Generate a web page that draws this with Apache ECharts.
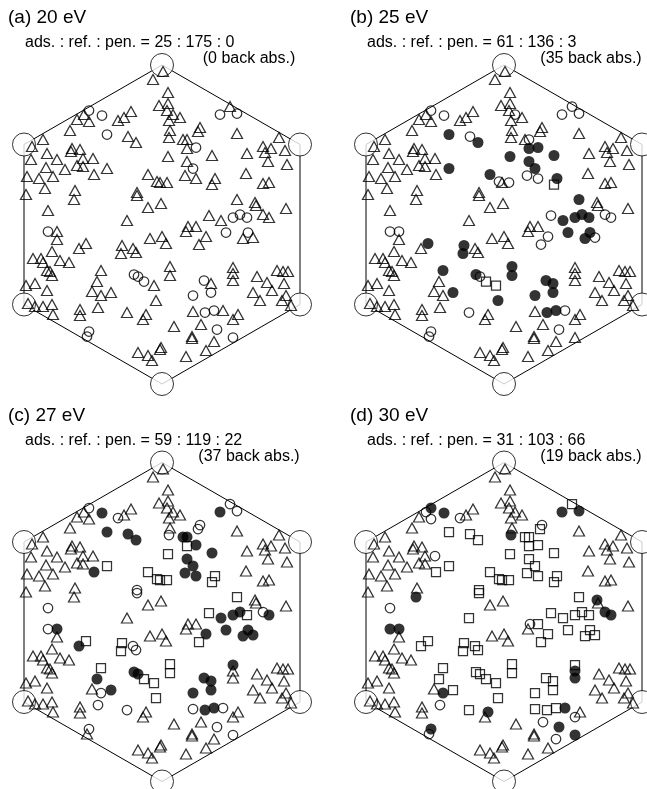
<!DOCTYPE html>
<html><head><meta charset="utf-8">
<script src="https://cdn.jsdelivr.net/npm/echarts@6/dist/echarts.min.js"></script>
<style>html,body{margin:0;padding:0;background:#fff}#c{width:647px;height:789px}</style>
</head><body><div id="c"></div>
<script>
// ---- text ----
const panelTitles = ['(a) 20 eV', '(b) 25 eV', '(c) 27 eV', '(d) 30 eV'];
const ratioTexts = ['ads. : ref. : pen. = 25 : 175 : 0', 'ads. : ref. : pen. = 61 : 136 : 3',
                    'ads. : ref. : pen. = 59 : 119 : 22', 'ads. : ref. : pen. = 31 : 103 : 66'];
const backAbs = ['(0 back abs.)', '(35 back abs.)', '(37 back abs.)', '(19 back abs.)'];

// ---- hexagon vertices (local units, y downward) ----
const hexVertices = [[0,-159.5],[-138,-80],[-138,80],[0,159.5],[138,80],[138,-80]];

// ---- (a) 20 eV ----
const aTri = [[1,-153],[-9,-145],[6,-132],[-3,-119],[6,-121],[5,-114],[11,-110],[18,-107],[7,-104],[68,-118],
[-31,-113],[-38,-107],[-44,-104],[-78,-110],[-85,-105],[-73,-103],[-92,-94],[-119,-85],[-130,-78],[-34,-88],
[-26,-82],[8,-94],[7,-87],[21,-85],[25,-85],[25,-76],[38,-97],[36,-93],[75,-91],[117,-87],
[101,-78],[109,-76],[103,-72],[123,-74],[-90,-76],[-82,-75],[-91,-73],[-115,-71],[-105,-65],[-131,-65],
[-79,-66],[-69,-66],[6,-68],[50,-69],[85,-71],[25,-63],[106,-63],[125,-60],
[-116,-57],[-97,-55],[-85,-59],[-79,-58],[-55,-56],[-135,-48],[-123,-46],[-109,-48],[-68,-50],[-14,-50],
[-5,-43],[-2,-42],[5,-42],[23,-49],[34,-46],[53,-46],[50,-40],[84,-51],[101,-41],[107,-42],
[-117,-36],[-136,-30],[-87,-34],[-88,-25],[-25,-32],[-25,-29],[75,-25],[93,-22],[94,-19],[124,-16],
[-114,-14],[-14,-17],[-1,-21],[47,-9],[59,-4],[101,-10],[107,-7],[-35,-4],[26,2],[24,7],
[34,2],[44,12],[37,20],[81,14],[91,13],[-105,7],[-105,15],[-76,19],[-83,24],[-12,14],
[0,12],[4,19],[-40,21],[-41,29],[-29,24],[-26,28],[-110,27],[-129,34],[-121,34],[-119,38],
[-102,36],[-93,38],[-115,46],[-112,47],[-110,51],[-61,46],[8,42],[8,51],[71,43],[71,49],
[71,56],[95,52],[115,46],[121,47],[126,47],[-136,61],[-127,59],[-115,66],[-65,57],[-70,67],
[-61,71],[-51,68],[-8,61],[-6,76],[49,59],[105,58],[122,59],[91,68],[110,66],[98,76],
[124,71],[120,76],[129,81],[-134,79],[-127,82],[-119,82],[-110,80],[-109,90],[-82,85],[-82,91],
[-64,83],[-35,88],[-16,90],[-19,95],[31,87],[61,86],[76,90],[71,95],[12,102],[39,100],
[30,114],[30,112],[52,117],[44,126],[24,132],[-24,128],[-14,131],[-10,136],[-2,125],[-1,123]];
const aOpen = [[-73,-114],[-60,-109],[58,-110],[75,-111],[-55,-90],[34,-77],[31,-56],[71,-7],[78,-10],[85,-7],
[64,8],[86,8],[-114,7],[-28,50],[-24,52],[-18,57],[42,56],[31,71],[49,68],[43,88],[52,86],[55,105],[71,113],
[-73,107],[-75,112]];
const aFill = [];
const aSq = [];

// ---- (b) 25 eV ----
const bTri = [[1,-153],[-9,-145],[6,-132],[-3,-119],[6,-121],[5,-114],[18,-107],[7,-104],
[-31,-113],[-38,-107],[-44,-104],[-78,-110],[-85,-105],[-73,-103],[-92,-94],[-119,-85],[-130,-78],
[8,-94],[7,-87],[21,-85],[38,-97],[36,-93],[75,-91],[117,-87],
[101,-78],[109,-76],[103,-72],[123,-74],[-90,-76],[-82,-75],[-91,-73],[-115,-71],[-105,-65],[-131,-65],
[-79,-66],[-69,-66],[85,-71],[106,-63],[125,-60],
[-116,-57],[-97,-55],[-85,-59],[-79,-58],[-135,-48],[-123,-46],[-109,-48],[-68,-50],
[-2,-42],[84,-51],[101,-41],[107,-42],
[-117,-36],[-136,-30],[-87,-34],[-88,-25],[-25,-32],[-25,-29],[93,-22],[94,-19],[124,-16],
[-114,-14],[-14,-17],[-1,-21],[-35,-4],[26,2],[24,7],
[34,2],[-105,15],[-83,24],[-12,14],
[0,12],[4,19],[-29,24],[-26,28],[-110,27],[-129,34],[-121,34],[-119,38],
[-102,36],[-93,38],[-115,46],[-112,47],[-110,51],[71,43],[71,49],
[71,56],[95,52],[115,46],[121,47],[126,47],[-136,61],[-127,59],[-115,66],[-65,57],[-70,67],
[-61,71],[105,58],[122,59],[91,68],[110,66],[98,76],
[124,71],[120,76],[129,81],[-134,79],[-127,82],[-119,82],[-110,80],[-109,90],[-82,85],[-82,91],
[-64,83],[-16,90],[-19,95],[31,87],[76,90],[71,95],[12,102],[39,100],
[30,114],[30,112],[52,117],[44,126],[24,132],[-24,128],[-14,131],[-10,136],[-2,125],[-1,123],[71,113]];
const bOpen = [[-73,-114],[-60,-109],[58,-110],[75,-111],[-114,7],[55,105],[-73,107],[-75,112],[11,-110],[68,-118],
[-34,-88],[25,-85],[-5,-43],[5,-42],[23,-49],[34,-46],[47,-9],[101,-10],[107,-7],[44,12],[37,20],[91,13],
[-105,7],[-35,88],[61,86],[-24,52]];
const bFill = [[-55,-90],[34,-77],[31,-56],[71,-7],[78,-10],[85,-7],[64,8],[86,8],[-28,50],[42,56],[31,71],[49,68],
[43,88],[52,86],[-26,-82],[25,-76],[6,-68],[50,-69],[25,-63],[-55,-56],[-14,-50],[53,-46],[75,-25],[59,-4],
[81,14],[-76,19],[-40,21],[-41,29],[-61,46],[8,42],[8,51],[-51,68],[-6,76],[49,59]];
const bSq = [[50,-40],[-18,57],[-8,61]];

// ---- (c) 27 eV ----
const cTri = [[1,-153],[-9,-145],[6,-132],[-3,-119],[6,-121],[5,-114],[11,-110],[18,-107],[7,-104],
[-31,-113],[-38,-107],[-78,-110],[-85,-105],[-73,-103],[-92,-94],[-119,-85],[-130,-78],
[8,-94],[75,-91],[117,-87],
[101,-78],[109,-76],[103,-72],[123,-74],[-90,-76],[-82,-75],[-91,-73],[-115,-71],[-105,-65],[-131,-65],
[-79,-66],[-69,-66],[85,-71],[106,-63],[125,-60],
[-116,-57],[-97,-55],[-85,-59],[-79,-58],[-135,-48],[-123,-46],[-109,-48],
[84,-51],[101,-41],[107,-42],
[-117,-36],[-136,-30],[-87,-34],[-88,-25],[93,-22],[94,-19],[124,-16],
[-14,-17],[-1,-21],[-35,-4],[26,2],[24,7],
[34,2],[-105,15],[-12,14],
[0,12],[4,19],[-110,27],[-129,34],[-121,34],[-119,38],
[-102,36],[-93,38],[-115,46],[-112,47],[-110,51],[71,49],
[71,56],[95,52],[115,46],[121,47],[126,47],[-136,61],[-127,59],[-115,66],[-70,67],
[105,58],[122,59],[91,68],[110,66],[98,76],
[124,71],[120,76],[129,81],[-134,79],[-127,82],[-119,82],[-110,80],[-109,90],[-82,85],[-82,91],
[-16,90],[-19,95],[76,90],[71,95],[12,102],[39,100],
[30,114],[30,112],[52,117],[44,126],[24,132],[-24,128],[-14,131],[-10,136],[-2,125],[-1,123],[-75,112]];
const cOpen = [[-73,-114],[75,-111],[-114,7],[55,105],[71,113],[-73,107],[68,-118],[-44,-104],[7,-87],[38,-97],
[36,-93],[-25,-32],[-25,-29],[-114,-14],[101,-10],[-29,24],[-26,28],[-61,71],[-64,83],[-35,88],[31,87],[61,86]];
const cFill = [[-60,-109],[58,-110],[-55,-90],[34,-77],[31,-56],[71,-7],[78,-10],[64,8],[86,8],[-28,50],[-24,52],
[42,56],[31,71],[49,68],[43,88],[52,86],[-34,-88],[-26,-82],[21,-85],[25,-85],[50,-69],[25,-63],[-68,-50],
[23,-49],[34,-46],[59,-4],[107,-7],[44,12],[81,14],[91,13],[-105,7],[-83,24],[71,43],[-65,57],[-51,68],[49,59]];
const cSq = [[85,-7],[-18,57],[25,-76],[6,-68],[-55,-56],[-14,-50],[-5,-43],[-2,-42],[5,-42],[53,-46],[50,-40],
[75,-25],[47,-9],[37,20],[-76,19],[-40,21],[-41,29],[-61,46],[8,42],[8,51],[-8,61],[-6,76]];

// ---- (d) 30 eV ----
const dTri = [[1,-153],[-9,-145],[6,-132],[-3,-119],[6,-121],[5,-114],[11,-110],[18,-107],[7,-104],
[-31,-113],[-38,-107],[-85,-105],[-92,-94],[-119,-85],[-130,-78],
[8,-94],[75,-91],[117,-87],
[101,-78],[109,-76],[103,-72],[123,-74],[-90,-76],[-82,-75],[-91,-73],[-115,-71],[-105,-65],[-131,-65],
[-79,-66],[85,-71],[106,-63],[125,-60],
[-116,-57],[-97,-55],[-85,-59],[-79,-58],[-135,-48],[-123,-46],[-109,-48],
[84,-51],[101,-41],[107,-42],
[-117,-36],[-136,-30],[-87,-34],[94,-19],[124,-16],
[-14,-17],[-1,-21],[24,7],
[-105,15],[-12,14],
[0,12],[4,19],[-110,27],[-129,34],[-121,34],[-119,38],
[-102,36],[-93,38],[-115,46],[-112,47],[-110,51],
[95,52],[115,46],[121,47],[126,47],[-136,61],[-127,59],[-115,66],[-70,67],
[105,58],[122,59],[91,68],[110,66],[98,76],
[124,71],[120,76],[129,81],[-134,79],[-127,82],[-119,82],[-110,80],[-109,90],[-82,85],[-82,91],
[-19,95],[76,90],[12,102],
[30,114],[30,112],[44,126],[24,132],[-24,128],[-14,131],[-10,136],[-2,125],[-1,123]];
const dOpen = [[-75,112],[-44,-104],[-78,-110],[-73,-103],[38,-97],[-69,-66],[-114,-14],[26,2],[-64,83],[71,95],
[39,100],[52,117]];
const dFill = [[-73,-114],[-60,-109],[58,-110],[75,-111],[-114,7],[55,105],[71,113],[-73,107],[7,-87],[-88,-25],
[93,-22],[101,-10],[107,-7],[-105,7],[71,49],[71,56],[-61,71],[-16,90],[61,86]];
const dSq = [[-55,-90],[34,-77],[31,-56],[71,-7],[78,-10],[85,-7],[64,8],[86,8],[-28,50],[-24,52],[-18,57],[42,56],
[31,71],[49,68],[43,88],[52,86],[68,-118],[-34,-88],[-26,-82],[21,-85],[25,-85],[25,-76],[36,-93],[6,-68],
[50,-69],[25,-63],[-55,-56],[-68,-50],[-14,-50],[-5,-43],[-2,-42],[5,-42],[23,-49],[34,-46],[53,-46],[50,-40],
[-25,-32],[-25,-29],[75,-25],[47,-9],[59,-4],[-35,-4],[34,2],[44,12],[37,20],[81,14],[91,13],[-76,19],[-83,24],
[-40,21],[-41,29],[-29,24],[-26,28],[-61,46],[8,42],[8,51],[71,43],[-65,57],[-51,68],[-8,61],[-6,76],[49,59],
[-35,88],[31,87]];

// ---- layout ----
const panelData = [
  {tri: aTri, open: aOpen, fill: aFill, sq: aSq},
  {tri: bTri, open: bOpen, fill: bFill, sq: bSq},
  {tri: cTri, open: cOpen, fill: cFill, sq: cSq},
  {tri: dTri, open: dOpen, fill: dFill, sq: dSq}
];
const W = 647, H = 789;
const centers = [[162,224.5],[504,224.5],[162,622],[504,622]];
const FONT = '"Liberation Sans", Arial, sans-serif';

const grid = [], xAxis = [], yAxis = [], series = [], graphic = [];
const openStyle = {color: 'rgba(0,0,0,0)', borderColor: '#000', borderWidth: 1.25};
panelData.forEach((p, i) => {
  const [cx, cy] = centers[i];
  // grid kept inside the canvas; 1 axis unit = 1 pixel
  const x0 = cx - 160, x1 = Math.min(cx + 160, W);
  const y0 = cy - 175, y1 = Math.min(cy + 175, H);
  grid.push({left: x0, top: y0, width: x1 - x0, height: y1 - y0, containLabel: false, outerBoundsMode: 'none'});
  xAxis.push({type: 'value', gridIndex: i, min: x0 - cx, max: x1 - cx, show: false});
  yAxis.push({type: 'value', gridIndex: i, min: y0 - cy, max: y1 - cy, inverse: true, show: false});
  const base = {xAxisIndex: i, yAxisIndex: i, silent: true, animation: false, clip: false};
  series.push(Object.assign({}, base, {type: 'line', data: hexVertices.concat([hexVertices[0]]),
    symbol: 'none', lineStyle: {color: '#000', width: 1}, z: 1}));
  series.push(Object.assign({}, base, {type: 'scatter', data: hexVertices, symbol: 'circle', symbolSize: 23,
    itemStyle: {color: '#fff', borderColor: '#000', borderWidth: 1}, z: 2}));
  series.push(Object.assign({}, base, {type: 'scatter', data: p.tri, symbol: 'triangle', symbolSize: [11, 10],
    itemStyle: openStyle, z: 3}));
  series.push(Object.assign({}, base, {type: 'scatter', data: p.open, symbol: 'circle', symbolSize: 9.5,
    itemStyle: openStyle, z: 3}));
  series.push(Object.assign({}, base, {type: 'scatter', data: p.sq, symbol: 'rect', symbolSize: 9,
    itemStyle: openStyle, z: 3}));
  series.push(Object.assign({}, base, {type: 'scatter', data: p.fill, symbol: 'circle', symbolSize: 11,
    itemStyle: {color: '#000', borderColor: '#000', borderWidth: 0}, z: 4}));
  const dx = cx - 162, dy = cy - 224.5;
  graphic.push({type: 'text', x: 8 + dx, y: 18 + dy, style: {text: panelTitles[i], font: '19px ' + FONT,
    fill: '#000', align: 'left', verticalAlign: 'middle'}});
  graphic.push({type: 'text', x: 25 + dx, y: 43 + dy, style: {text: ratioTexts[i], font: '16px ' + FONT,
    fill: '#000', align: 'left', verticalAlign: 'middle'}});
  graphic.push({type: 'text', x: 249 + dx, y: 59 + dy, style: {text: backAbs[i], font: '16px ' + FONT,
    fill: '#000', align: 'center', verticalAlign: 'middle'}});
});

const chart = echarts.init(document.getElementById('c'));
chart.setOption({animation: false, backgroundColor: '#fff', grid, xAxis, yAxis, series, graphic});
</script></body></html>
